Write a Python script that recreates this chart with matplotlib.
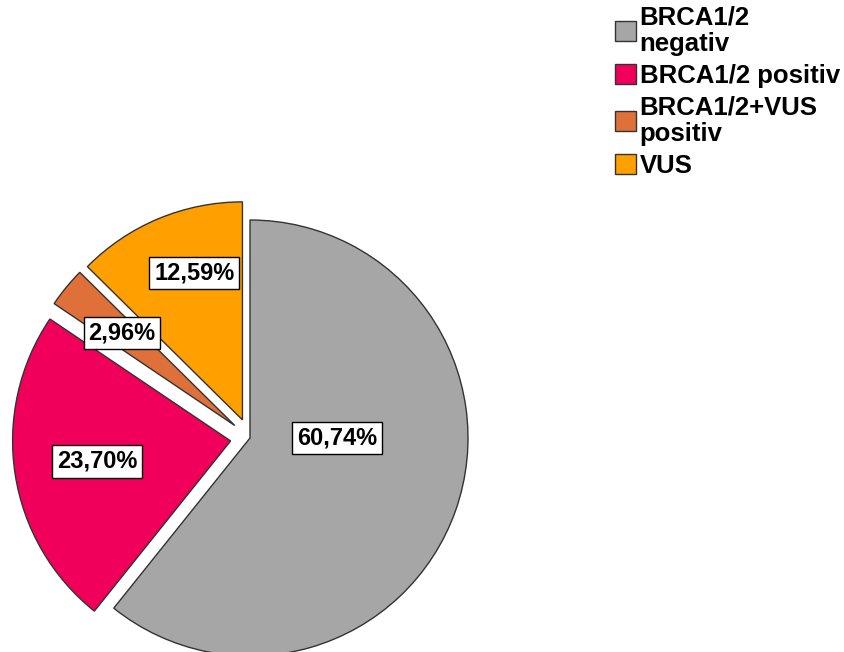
import numpy as np
import matplotlib
matplotlib.use('Agg')
import matplotlib.pyplot as plt
from matplotlib.patches import Patch

# chart data
categories = ['BRCA1/2\nnegativ', 'BRCA1/2 positiv', 'BRCA1/2+VUS\npositiv', 'VUS']
percentages = [60.74, 23.70, 2.96, 12.59]
colors = ['#a6a6a6', '#f0005a', '#e0703a', '#ffa000']
explode = [0.0, 0.09, 0.09, 0.09]

plt.rcParams['font.family'] = ['Liberation Sans', 'DejaVu Sans']

fig = plt.figure(figsize=(8.44, 6.52), dpi=100)
W, H = 844, 652
cx, cy, r = 250, 438, 218  # pie centre / radius in pixels
ax = fig.add_axes([(cx - r) / W, (H - cy - r) / H, 2 * r / W, 2 * r / H])

wedges, _ = ax.pie(percentages, colors=colors, explode=explode, startangle=90,
                   counterclock=False, radius=1.0,
                   wedgeprops=dict(edgecolor='#333333', linewidth=1.0))
for w in wedges:
    w.set_clip_on(False)
ax.set_xlim(-1, 1)
ax.set_ylim(-1, 1)
ax.set_aspect('equal')
ax.axis('off')

# percentage labels in boxes (label distance / angle tweak per slice)
label_dist = [0.40, 0.62, 0.67, 0.71]
angle_shift = [19.3, 0, 0, -4]
for i, (w, p) in enumerate(zip(wedges, percentages)):
    ang = np.deg2rad((w.theta1 + w.theta2) / 2 + angle_shift[i])
    d = label_dist[i] + explode[i]
    x, y = d * np.cos(ang), d * np.sin(ang)
    ax.text(x, y, f"{p:.2f}".replace('.', ',') + '%', ha='center', va='center',
            fontsize=17, fontweight='bold',
            bbox=dict(boxstyle='square,pad=0.2', facecolor='white',
                      edgecolor='black', linewidth=1.0))

handles = [Patch(facecolor=c, edgecolor='#333333', linewidth=1.0) for c in colors]
leg = fig.legend(handles, categories, loc='upper left', bbox_to_anchor=(605 / W, 1.008),
                 frameon=False, prop=dict(size=18.5, weight='bold'),
                 handlelength=0.8, handleheight=0.8, handletextpad=0.15,
                 labelspacing=0.3, borderaxespad=0.0)
for t in leg.get_texts():
    t.set_linespacing(1.15)

plt.savefig('out.png', dpi=100)
plt.close()
